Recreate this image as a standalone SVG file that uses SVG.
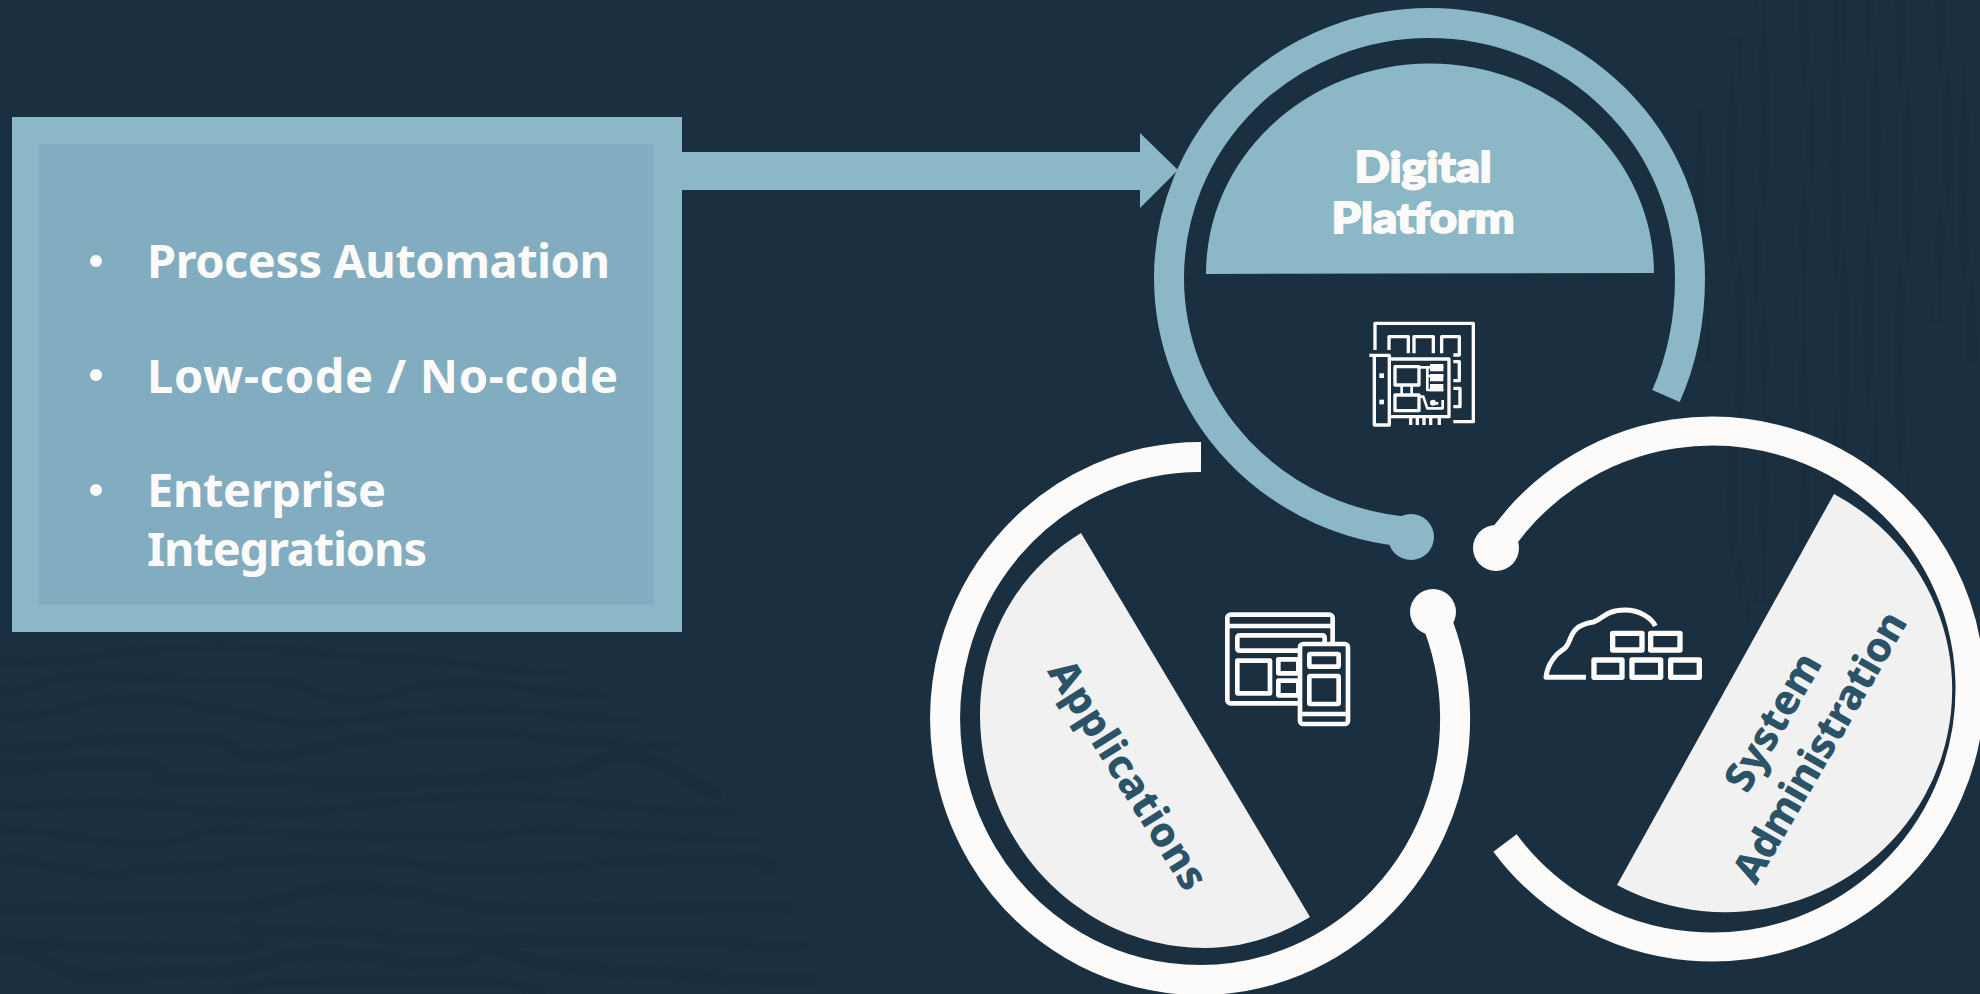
<svg xmlns="http://www.w3.org/2000/svg" width="1980" height="994" viewBox="0 0 1980 994">
<style>
.wave{fill:none;stroke:#192c3b;stroke-linecap:round;stroke-linejoin:round}
.ring{fill:none;stroke-linecap:butt}
.teal{stroke:#8bb7c7}.white{stroke:#fcfbf9}
.seg{fill:#f1f1f2}
.ic{fill:none;stroke:#fcfbf9;stroke-linejoin:round}
.bul{font-family:"Noto Sans","Open Sans",sans-serif;font-weight:700;font-size:47px;fill:#fcfbf9}
.h{font-family:Lato,"Noto Sans",sans-serif;font-weight:900;font-size:42px;fill:#fcfbf9;text-anchor:middle;stroke:#fcfbf9;stroke-width:1.8}
.d{font-family:"Noto Sans","Open Sans",sans-serif;font-weight:800;font-size:41px;fill:#2b5368;text-anchor:middle}
</style>
<rect width="1980" height="994" fill="#1a2f40"/>
<g id="background-waves">
<g class="wave" stroke-width="9" opacity=".65">
<path d="M0 663C108 663 108 647 217 647S300 657 380 657S470 672 564 672"/>
<path d="M0 692C40 692 40 677 81 677S160 680 244 680S300 700 352 700S400 682 461 682S530 695 602 695"/>
<path d="M0 717C70 717 70 698 141 698S180 710 217 710S260 723 309 723S390 710 477 710S560 720 637 720"/>
<path d="M0 748C86 748 86 737 173 737S215 757 260 757S350 733 450 733S560 745 672 745" stroke-width="11"/>
<path d="M0 768C60 768 60 763 119 763S145 780 173 780S280 783 380 783S455 775 531 775S580 757 623 757S670 775 715 793" stroke-width="14"/>
<path d="M0 807C54 807 54 802 108 802S190 813 271 813S380 797 490 797S610 812 732 812"/>
<path d="M0 830C70 830 70 843 141 843S180 830 217 830S325 837 434 837S490 830 542 830S650 840 751 840"/>
<path d="M0 860C54 860 54 873 108 873S220 860 336 860S405 870 477 870S590 860 705 860S740 866 770 872" stroke-width="11"/>
<path d="M0 910C103 910 103 907 206 907S280 887 352 887S450 910 542 910S660 907 786 907" stroke-width="13"/>
<path d="M0 943C103 943 103 950 206 950S225 928 244 928S420 942 596 942S700 945 802 945" stroke-width="12"/>
<path d="M0 947C49 947 49 977 98 977S160 970 217 970S270 953 325 953S380 963 434 963S460 950 488 950S530 967 569 967S690 980 813 980" stroke-width="14"/>
<path d="M233 990C252 990 252 983 271 983S365 982 461 982S500 990 542 990" stroke-width="10"/>
</g>
<g class="wave" stroke-width="9" opacity=".5">
<path d="M1703 110C1703 170 1698 170 1698 230S1706 300 1706 360"/>
<path d="M1737 40C1737 110 1730 110 1730 190S1742 260 1742 340S1732 420 1732 500S1745 560 1745 620"/>
<path d="M1760 0C1760 60 1766 60 1766 120S1758 190 1758 260S1768 340 1768 420S1760 500 1760 600"/>
<path d="M1803 0C1803 70 1810 70 1810 140S1800 220 1800 300S1806 400 1806 470S1796 560 1796 680"/>
<path d="M1840 0C1840 90 1834 90 1834 170S1844 260 1844 340S1838 420 1838 500" stroke-width="12"/>
<path d="M1870 0C1870 70 1876 70 1876 140S1868 240 1868 320S1874 380 1874 470"/>
<path d="M1900 0C1900 90 1908 90 1908 180S1898 280 1898 360S1906 450 1906 540"/>
<path d="M1940 0C1940 70 1948 70 1948 140S1936 230 1936 320"/>
<path d="M1968 60C1968 130 1962 130 1962 200S1972 270 1972 360"/>
</g>
</g>
<g id="connectors">
<path d="M682 152H1140V133L1178 170L1140 208V190H682Z" fill="#8bb7c7"/>
</g>
<g id="feature-box">
<rect x="12" y="117" width="670" height="515" fill="#8bb7c7"/>
<rect x="39" y="144" width="615" height="461" fill="#82acc0"/>
<circle cx="96" cy="261" r="6" fill="#fcfbf9"/>
<circle cx="96" cy="375" r="6" fill="#fcfbf9"/>
<circle cx="96" cy="490" r="6" fill="#fcfbf9"/>
<text class="bul" x="147" y="278" textLength="463">Process Automation</text>
<text class="bul" x="147" y="393" textLength="471">Low-code / No-code</text>
<text class="bul" x="147" y="507" textLength="239">Enterprise</text>
<text class="bul" x="147" y="566" textLength="280">Integrations</text>
</g>
<g id="digital-platform">
<path class="ring teal" stroke-width="30" d="M1666 396C1681 362 1690 322 1690 278A260.5 255 0 0 0 1429.5 23A260.5 255 0 0 0 1169 278A260.5 255 0 0 0 1411 532"/>
<circle cx="1411" cy="537" r="23" fill="#8bb7c7"/>
<path d="M1206 274A224 210 0 0 1 1654 273Z" fill="#8bb7c7"/>
<text class="h" x="1423" y="182" textLength="137" lengthAdjust="spacingAndGlyphs">Digital</text>
<text class="h" x="1423" y="233" textLength="183" lengthAdjust="spacingAndGlyphs">Platform</text>
<g transform="translate(1340 290) scale(.3333)">
<path class="ic" stroke-width="10" d="M105 180V100H400V395H340"/>
<path class="ic" stroke-width="10" d="M147 180V140H205V190M222 190V140H280V190M305 190V140H358V195H340M340 215H358V272H340M340 295H360V350H340"/>
<path class="ic" stroke-width="10" d="M88 196H148V405H103V196M148 207H327V380H148M212 380V405M232 380V405M252 380V405M272 380V405M298 380V405"/>
<rect class="ic" stroke-width="10" x="165" y="230" width="72" height="55"/>
<rect class="ic" stroke-width="10" x="165" y="315" width="72" height="47"/>
<path class="ic" stroke-width="8" d="M237 232H310M262 232V300H310M262 258H310M185 285V315M215 285V315M237 320H250L262 355H308V330M280 340H295"/>
<path d="M270 222H310V244H270ZM270 252H310V274H270ZM270 282H310V304H270Z" fill="#fcfbf9"/>
<circle cx="279" cy="338" r="9" fill="#fcfbf9"/>
<rect x="118" y="250" width="14" height="14" fill="#fcfbf9"/>
<rect x="118" y="329" width="14" height="14" fill="#fcfbf9"/>
</g>
</g>
<g id="applications">
<path class="ring white" stroke-width="30" d="M1201 457A255 261.5 0 1 0 1433 612"/>
<circle cx="1433" cy="612" r="23" fill="#fcfbf9"/>
<path class="seg" d="M1081 533C1020 570 980 635 980 715C980 842 1080 948 1205 948C1245 948 1280 935 1310 917Z"/>
<text class="d" transform="translate(1128 775) rotate(58)" x="0" y="14" textLength="262">Applications</text>
<g transform="translate(1210 600) scale(.3333)">
<rect class="ic" stroke-width="14" x="52" y="44" width="316" height="266" rx="10"/>
<path class="ic" stroke-width="14" d="M52 78H368"/>
<rect class="ic" stroke-width="14" x="82" y="106" width="262" height="46" rx="6"/>
<rect class="ic" stroke-width="14" x="82" y="182" width="98" height="98"/>
<rect class="ic" stroke-width="14" x="205" y="178" width="60" height="42"/>
<rect class="ic" stroke-width="14" x="205" y="242" width="60" height="44"/>
<rect class="ic" stroke-width="14" x="270" y="132" width="144" height="240" rx="10" style="fill:#1a2f40"/>
<rect class="ic" stroke-width="14" x="298" y="162" width="88" height="38" rx="3"/>
<rect class="ic" stroke-width="14" x="298" y="228" width="88" height="84" rx="3"/>
<path class="ic" stroke-width="14" d="M270 342H414"/>
</g>
</g>
<g id="system-administration">
<path class="ring white" stroke-width="29" d="M1496 548A258 258 0 1 1 1505 843"/>
<circle cx="1496" cy="548" r="23" fill="#fcfbf9"/>
<path class="seg" d="M1834 494A226 222 0 0 1 1617 885Z"/>
<text class="d" transform="translate(1773 722) rotate(-60)" x="0" y="14">System</text>
<text class="d" transform="translate(1820 747) rotate(-60)" x="0" y="14" textLength="305">Administration</text>
<g transform="translate(1530 600) scale(.3333)">
<path class="ic" stroke-width="15" d="M168 232H48C52 190 80 160 100 148C130 130 108 78 190 66C215 60 225 30 285 30C330 30 365 55 376 78"/>
<rect class="ic" stroke-width="16" x="248" y="100" width="88" height="50"/>
<rect class="ic" stroke-width="16" x="362" y="100" width="88" height="50"/>
<rect class="ic" stroke-width="16" x="192" y="180" width="84" height="52"/>
<rect class="ic" stroke-width="16" x="306" y="180" width="86" height="52"/>
<rect class="ic" stroke-width="16" x="422" y="180" width="86" height="52"/>
</g>
</g>
</svg>
